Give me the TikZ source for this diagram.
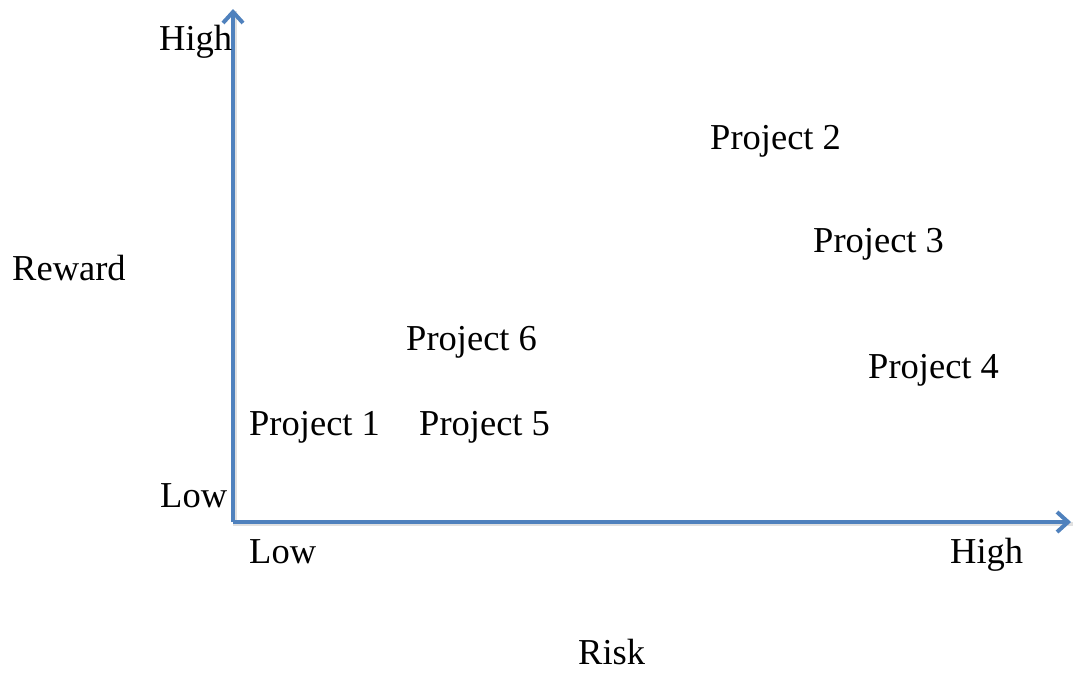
\documentclass[tikz,border=0pt]{standalone}
\usepackage{fontspec}
\setmainfont{Liberation Serif}
\usepackage{tikz}
\usetikzlibrary{arrows.meta,positioning}
\definecolor{axisblue}{RGB}{79,129,189}
\tikzstyle{lbl}=[inner sep=0pt,font=\fontsize{36.5}{40}\selectfont,anchor=base west]
\tikzstyle{axis}=[-{Straight Barb[length=11pt,width=20pt,line width=4pt]},line width=4pt,draw=axisblue]
\tikzstyle{axisshade}=[line width=4pt,draw=black,opacity=0.12]

\begin{document}
\begin{tikzpicture}[x=1pt,y=-1pt]
      \useasboundingbox (0,0) rectangle (1075,672);
      \coordinate (origin) at (233,522);
      \coordinate (ytop) at (233,9);
      \coordinate (xend) at (1071,522);

      % axes with a faint shadow
      \draw[axisshade] ([shift={(1.5,2)}]ytop) -- ([shift={(1.5,2)}]origin) -- ([shift={(1.5,2)}]xend);
      \draw[axis] (origin)--(ytop);
      \draw[axis] (origin)--(xend);

      % axis labels
      \node[lbl] (yhigh) at (159,50) {High};
      \node[lbl] (ylow) at (160,507) {Low};
      \node[lbl] (xlow) at (249,563) {Low};
      \node[lbl] (xhigh) at (950,563) {High};
      \node[lbl] (reward) at (12,280) {Reward};
      \node[lbl] (risk) at (578,664) {Risk};

      % projects
      \node[lbl] (p2) at (710,149) {Project 2};
      \node[lbl] (p3) at (813,252) {Project 3};
      \node[lbl] (p6) at (406,350) {Project 6};
      \node[lbl] (p4) at (868,378) {Project 4};
      \node[lbl] (p1) at (249,435) {Project 1};
      \node[lbl] (p5) at (419,435) {Project 5};
    \end{tikzpicture}
\end{document}
